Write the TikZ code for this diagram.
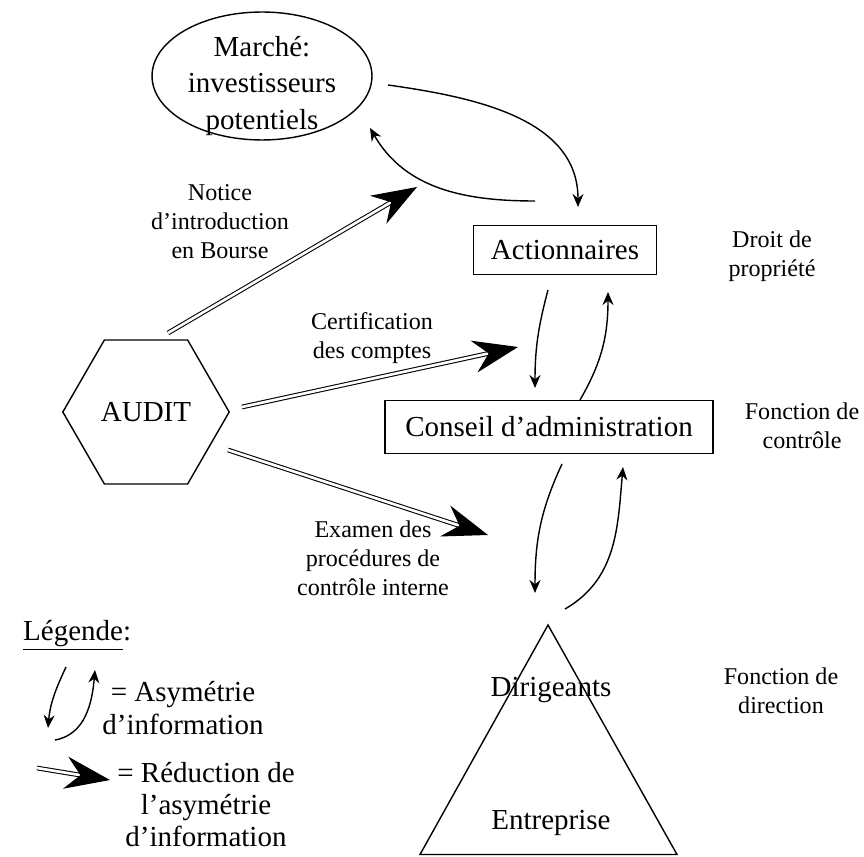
\documentclass[tikz,border=0pt]{standalone}
\usepackage{fontspec}
\setmainfont{Liberation Serif}
\usetikzlibrary{arrows.meta,shapes.geometric,calc}

\tikzset{
	boite/.style={draw, line width=0.9pt},
	petit/.style={align=center, font=\fontsize{13.7}{16.5}\selectfont},
	asym/.style={line width=0.8pt, -{Stealth[length=2.6mm,width=2.2mm]}},
	reduc/.style={line width=0.6pt, double, double distance=1.5pt, shorten >=5mm},
	reductip/.style={line width=0.6pt, -{Stealth[length=9mm,width=6.5mm,inset=3mm]}}
}

\begin{document}
\begin{tikzpicture}[x=0.02cm, y=0.02cm, font=\fontsize{16.5}{20}\selectfont]
	\useasboundingbox (0,0) rectangle (864,856);
	\node[draw, ellipse, line width=0.8pt, inner sep=0pt, minimum width=4.4cm, minimum height=2.56cm] (marche) at (262,780) {};
	\node[align=center, font=\fontsize{16.5}{21}\selectfont] (marchetxt) at (262,770) {Marché:\\investisseurs\\potentiels};
	\node[boite, minimum width=3.66cm, minimum height=0.98cm] (action) at (565,606) {Actionnaires};
	\node[boite, minimum width=6.56cm, minimum height=1.06cm] (conseil) at (549,429) {Conseil d'administration};
	\node[draw, regular polygon, regular polygon sides=6, minimum size=3.05cm, line width=0.8pt] (audit) at (146,444) {AUDIT};
	\draw[line width=0.8pt] (548,231) -- (677,1.5) -- (420,1.5) -- cycle;
	\node (dirig) at (551,166) {Dirigeants};
	\node (entrep) at (551,33) {Entreprise};

	\node[petit] (notice) at (220,634) {Notice\\d'introduction\\en Bourse};
	\node[petit] (certif) at (372,518) {Certification\\des comptes};
	\node[petit] (examen) at (373,298) {Examen des\\procédures de\\contrôle interne};
	\node[petit] (droit) at (772,600) {Droit de\\propriété};
	\node[petit] (fctctrl) at (802,430) {Fonction de\\contrôle};
	\node[petit] (fctdir) at (781,165) {Fonction de\\direction};

	\node[anchor=west] (legende) at (17,221) {\underline{Légende}:};
	\node[align=center, font=\fontsize{16.5}{18.7}\selectfont] (lasym) at (183,148) {= Asymétrie\\d'information};
	\node[align=center, font=\fontsize{16.5}{18.2}\selectfont] (lreduc) at (206,51) {= Réduction de\\l'asymétrie\\d'information};

	\coordinate (m1) at (388,771); \coordinate (m2) at (578,649);
	\coordinate (m3) at (535,655); \coordinate (m4) at (370,728);
	\coordinate (a1) at (548,566); \coordinate (a2) at (535,468);
	\coordinate (a3) at (580,456); \coordinate (a4) at (608,564);
	\coordinate (d1) at (562,392); \coordinate (d2) at (535,263);
	\coordinate (d3) at (565,247); \coordinate (d4) at (623,389);
	\coordinate (g1) at (66,189); \coordinate (g2) at (48,128);
	\coordinate (g3) at (55,116); \coordinate (g4) at (95,186);
	\draw[asym] (m1) to[out=-8,in=90] (m2);
	\draw[asym] (m3) to[out=180,in=-60] (m4);
	\draw[asym] (a1) to[out=-105,in=90] (a2);
	\draw[asym] (a3) to[out=60,in=-90] (a4);
	\draw[asym] (d1) to[out=-115,in=90] (d2);
	\draw[asym] (d3) to[out=30,in=-95] (d4);
	\draw[asym] (g1) to[out=-115,in=85] (g2);
	\draw[asym] (g3) to[out=10,in=-95] (g4);

	\coordinate (n1) at (168,523); \coordinate (n2) at (417,669);
	\coordinate (c1) at (242,449); \coordinate (c2) at (518,509);
	\coordinate (e1) at (228,406); \coordinate (e2) at (488,321);
	\coordinate (l1) at (37,88); \coordinate (l2) at (110,76);
	\foreach \a/\b in {n1/n2, c1/c2, e1/e2, l1/l2} {
		\draw[reduc] (\a) -- (\b);
		\draw[reductip] ($(\b)!6mm!(\a)$) -- (\b);
	}
\end{tikzpicture}
\end{document}
